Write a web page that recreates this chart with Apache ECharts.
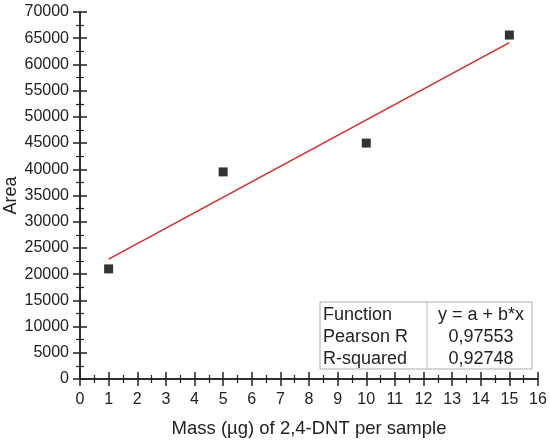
<!DOCTYPE html>
<html>
<head>
<meta charset="utf-8">
<script src="https://cdn.jsdelivr.net/npm/echarts@6/dist/echarts.min.js"></script>
<style>
    html, body { margin: 0; padding: 0; background: #fff; }
    .box-con { width: 550px; height: 442px; }
</style>
</head>
<body>
<div class="box-con"></div>
<script>
// measured points
var massValues = [1, 5, 10, 15];
var areaValues = [21000, 39500, 45000, 65600];
// linear fit, endpoints
var fitX = [1, 15];
var fitY = [22880, 64150];
// fit summary table
var tableLabels = ['Function', 'Pearson R', 'R-squared'];
var tableValues = ['y = a + b*x', '0,97553', '0,92748'];

window.onload = function(){
    var myChart = echarts.init(document.querySelector('.box-con'));

    var points = massValues.map(function(x, i){ return [x, areaValues[i]]; });
    var fit = fitX.map(function(x, i){ return [x, fitY[i]]; });

    var font = 'Arial, "Liberation Sans", sans-serif';
    var axLine = {show: true, lineStyle: {color: '#222', width: 1.5}};
    var tick = {show: true, inside: false, length: 7, lineStyle: {color: '#222', width: 1.5}};
    var minor = {show: true, splitNumber: 2, length: 4, lineStyle: {color: '#222', width: 1.2}};

    // table drawn as graphic
    var tbl = [
        {type: 'rect', shape: {x: 320, y: 302, width: 212, height: 67},
         style: {fill: '#fff', stroke: '#aaa', lineWidth: 1}},
        {type: 'line', shape: {x1: 427, y1: 302, x2: 427, y2: 369},
         style: {stroke: '#bbb', lineWidth: 1}}
    ];
    var rowY = [315, 337, 359];
    for (var i = 0; i < tableLabels.length; i++) {
        tbl.push({type: 'text', x: 323, y: rowY[i],
            style: {text: tableLabels[i], font: '18px ' + font, fill: '#222', verticalAlign: 'middle'}});
        tbl.push({type: 'text', x: 481, y: rowY[i],
            style: {text: tableValues[i], font: '18px ' + font, fill: '#222', align: 'center', verticalAlign: 'middle'}});
    }

    var option = {
        animation: false,
        backgroundColor: '#fff',
        grid: {left: 80, right: 12, top: 12, bottom: 63, outerBoundsMode: 'none', containLabel: false},
        xAxis: [
            {
                type: 'value', min: 0, max: 16, interval: 1,
                name: 'Mass (µg) of 2,4-DNT per sample',
                nameLocation: 'middle', nameGap: 40, nameMoveOverlap: false,
                nameTextStyle: {fontSize: 18.5, color: '#222', fontFamily: font},
                axisLine: axLine, axisTick: tick, minorTick: minor,
                splitLine: {show: false},
                axisLabel: {fontSize: 16, color: '#222', fontFamily: font, margin: 13}
            },
            {
                type: 'value', position: 'top', min: 0, max: 16, interval: 1,
                axisLine: axLine, axisTick: tick, minorTick: minor,
                splitLine: {show: false}, axisLabel: {show: false}
            }
        ],
        yAxis: [
            {
                type: 'value', min: 0, max: 70000, interval: 5000,
                name: 'Area',
                nameLocation: 'middle', nameGap: 60, nameMoveOverlap: false,
                nameTextStyle: {fontSize: 18, color: '#222', fontFamily: font},
                axisLine: axLine, axisTick: tick, minorTick: minor,
                splitLine: {show: false},
                axisLabel: {fontSize: 16, color: '#222', fontFamily: font, margin: 11,
                    formatter: function(v){ return String(v); }}
            },
            {
                type: 'value', position: 'right', min: 0, max: 70000, interval: 5000,
                axisLine: axLine, axisTick: tick, minorTick: minor,
                splitLine: {show: false}, axisLabel: {show: false}
            }
        ],
        series: [
            {
                type: 'line',
                data: fit,
                showSymbol: false,
                lineStyle: {color: '#d42a2a', width: 1.5},
                z: 2
            },
            {
                type: 'scatter',
                data: points,
                symbol: 'rect',
                symbolSize: 9,
                itemStyle: {color: '#000'},
                z: 3
            }
        ],
        graphic: tbl
    };
    myChart.setOption(option);

    window.onresize = function () {
        myChart.resize();
    }
}
</script>
</body>
</html>
